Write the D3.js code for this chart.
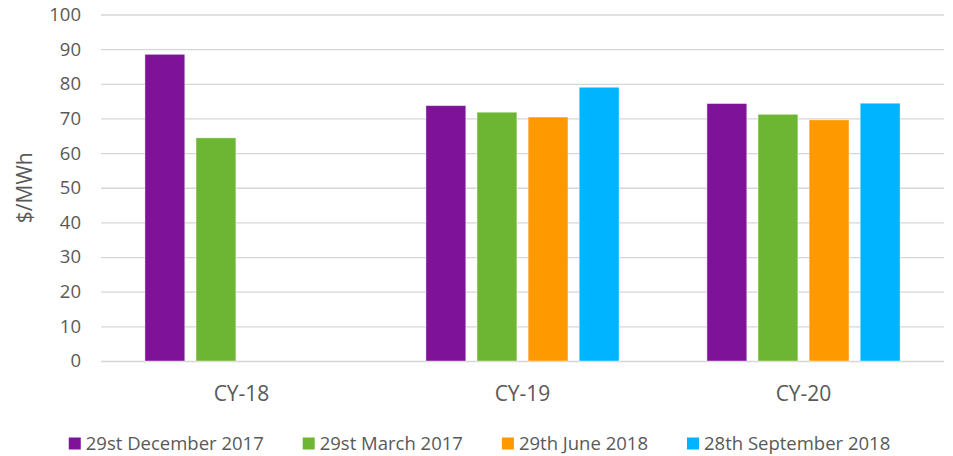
<!DOCTYPE html>
<html>
<head>
<meta charset="utf-8">
<script src="https://cdn.jsdelivr.net/npm/d3@7"></script>
<style>
  body { margin: 0; background: #fff; }
  text { font-family: "Open Sans", sans-serif; fill: #595959; }
</style>
</head>
<body>
<script>
// data
const categories = ['CY-18', 'CY-19', 'CY-20'];
const seriesNames = ['29st December 2017', '29st March 2017', '29th June 2018', '28th September 2018'];
const seriesColors = ['#7e1399', '#6db633', '#ff9900', '#00b4ff'];
const dec2017 = [88.5, 73.7, 74.3];
const mar2017 = [64.4, 71.8, 71.2];
const jun2018 = [null, 70.4, 69.6];
const sep2018 = [null, 79.0, 74.4];
const yTicks = [0, 10, 20, 30, 40, 50, 60, 70, 80, 90, 100];

const seriesValues = [dec2017, mar2017, jun2018, sep2018];

const width = 953;
const height = 456;
const fontSize = 18.5;
const bigFont = 21;

const svg = d3.select('body').append('svg')
    .attr('width', width)
    .attr('height', height);

// plot area
const plot = { left: 101, right: 944, top: 14.5, bottom: 361 };

const xScale = d3.scaleBand()
    .domain(categories)
    .range([plot.left, plot.right]);

const xInner = d3.scaleBand()
    .domain(seriesNames)
    .range([0, xScale.bandwidth()])
    .paddingInner(0.22)
    .paddingOuter(0.86);

const yScale = d3.scaleLinear()
    .domain([0, 100])
    .range([plot.bottom, plot.top]);

// gridlines + y tick labels
const yAxis = d3.axisLeft(yScale)
    .tickValues(yTicks)
    .tickSize(-(plot.right - plot.left))
    .tickPadding(20)
    .tickFormat(d3.format('d'));

const yg = svg.append('g')
    .attr('transform', `translate(${plot.left},0)`)
    .call(yAxis);
yg.select('.domain').remove();
yg.selectAll('.tick line').attr('stroke', '#d6d6d6').attr('stroke-width', 1.3);
yg.selectAll('.tick text')
    .style('font-size', fontSize + 'px')
    .attr('fill', '#595959');

// x category labels
const xAxis = d3.axisBottom(xScale).tickSize(0).tickPadding(25);
const xg = svg.append('g')
    .attr('transform', `translate(0,${plot.bottom})`)
    .call(xAxis);
xg.select('.domain').remove();
xg.selectAll('.tick text')
    .style('font-size', bigFont + 'px')
    .attr('fill', '#595959');

// bars
seriesNames.forEach((name, si) => {
    const rows = categories.map((c, ci) => ({ cat: c, value: seriesValues[si][ci] }))
        .filter(d => d.value != null);
    svg.append('g')
        .selectAll('rect')
        .data(rows)
        .join('rect')
        .attr('x', d => xScale(d.cat) + xInner(name))
        .attr('y', d => yScale(d.value))
        .attr('width', xInner.bandwidth())
        .attr('height', d => yScale(0) - yScale(d.value))
        .attr('fill', seriesColors[si])
        .attr('stroke', 'rgba(255,255,255,0.5)')
        .attr('stroke-width', 0.8);
});

// y axis title
svg.append('text')
    .attr('transform', `translate(32,${(plot.top + plot.bottom) / 2}) rotate(-90)`)
    .attr('text-anchor', 'middle')
    .style('font-size', bigFont + 'px')
    .text('$/MWh');

// legend
const legend = svg.append('g');
const legendY = 444;
let lx = 0;
seriesNames.forEach((name, i) => {
    const item = legend.append('g').attr('transform', `translate(${lx},0)`);
    item.append('rect')
        .attr('x', 0)
        .attr('y', legendY - 6.5)
        .attr('width', 12)
        .attr('height', 12)
        .attr('fill', seriesColors[i]);
    const t = item.append('text')
        .attr('x', 17)
        .attr('y', legendY)
        .attr('dy', '0.35em')
        .style('font-size', fontSize + 'px')
        .text(name);
    lx += 17 + t.node().getComputedTextLength() + 39;
});
const legendWidth = lx - 39;
legend.attr('transform', `translate(${479.5 - legendWidth / 2},0)`);
</script>
</body>
</html>
